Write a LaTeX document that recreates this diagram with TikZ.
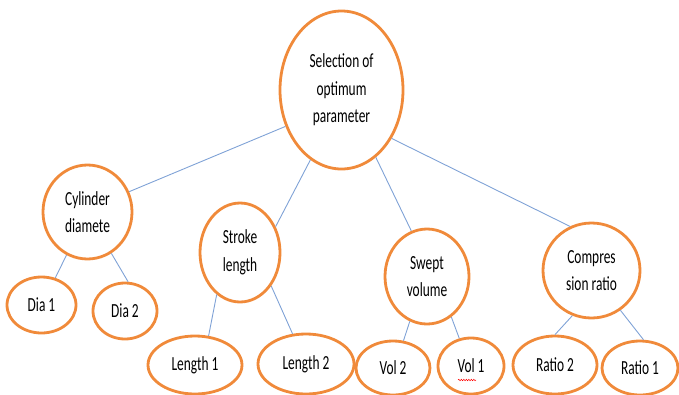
\documentclass[tikz,border=0pt]{standalone}
\usepackage{fontspec}
\setmainfont{Carlito}[FakeStretch=0.67]
\usetikzlibrary{shapes.geometric,decorations.pathmorphing}
\definecolor{ringorange}{HTML}{F08A3A}
\definecolor{linkblue}{HTML}{7FA2D6}
\begin{document}
\begin{tikzpicture}[x=1pt,y=-1pt,
  bubble/.style={ellipse,draw=ringorange,line width=2.8pt,fill=white,inner sep=0pt,
    align=center,font=\fontsize{20}{27.5}\selectfont},
  link/.style={draw=linkblue,line width=0.9pt}]
\useasboundingbox (0,0) rectangle (679,394);
% root
\node[bubble,minimum width=123pt,minimum height=158pt] (root) at (341.5,90) {Selection of\\optimum\\parameter};
% second level
\node[bubble,minimum width=89pt,minimum height=94pt] (cyl) at (87.5,212) {Cylinder\\diamete};
\node[bubble,minimum width=80pt,minimum height=99pt] (stroke) at (240,252.5) {Stroke\\length};
\node[bubble,minimum width=84pt,minimum height=95pt] (swept) at (427,276.5) {Swept\\volume};
\node[bubble,minimum width=97pt,minimum height=95pt] (comp) at (591.5,270.5) {Compres\\sion ratio};
% leaves
\node[bubble,minimum width=69pt,minimum height=56pt] (dia1) at (41.5,305) {Dia 1};
\node[bubble,minimum width=64pt,minimum height=56pt] (dia2) at (125,311) {Dia 2};
\node[bubble,minimum width=94pt,minimum height=58pt] (len1) at (195,365) {Length 1};
\node[bubble,minimum width=96pt,minimum height=60pt] (len2) at (306,364) {Length 2};
\node[bubble,minimum width=74pt,minimum height=54pt] (vol2) at (393,368) {Vol 2};
\node[bubble,minimum width=66pt,minimum height=56pt] (vol1) at (471,366) {Vol 1};
\node[bubble,minimum width=84pt,minimum height=58pt] (rat2) at (555,365) {Ratio 2};
\node[bubble,minimum width=76pt,minimum height=54pt] (rat1) at (640,368) {Ratio 1};
% connectors
\draw[link] (root.213) -- (cyl.26);
\draw[link] (root.246) -- (stroke.36);
\draw[link] (root.297) -- (swept.109);
\draw[link] (root.316) -- (comp.116);
\draw[link] (cyl.244) -- (dia1.63);
\draw[link] (cyl.300) -- (dia2.84);
\draw[link] (stroke.241) -- (len1.65);
\draw[link] (stroke.313) -- (len2.114);
\draw[link] (swept.249) -- (vol2.69);
\draw[link] (swept.301) -- (vol1.113);
\draw[link] (comp.247) -- (rat2.90);
\draw[link] (comp.306) -- (rat1.83);
% spell-check squiggle under "Vol 1"
\coordinate (sqa) at (458,380);
\coordinate (sqb) at (476,380);
\draw[red,line width=0.5pt,decorate,decoration={snake,amplitude=0.7pt,segment length=2.5pt}] (sqa) -- (sqb);
\end{tikzpicture}
\end{document}
